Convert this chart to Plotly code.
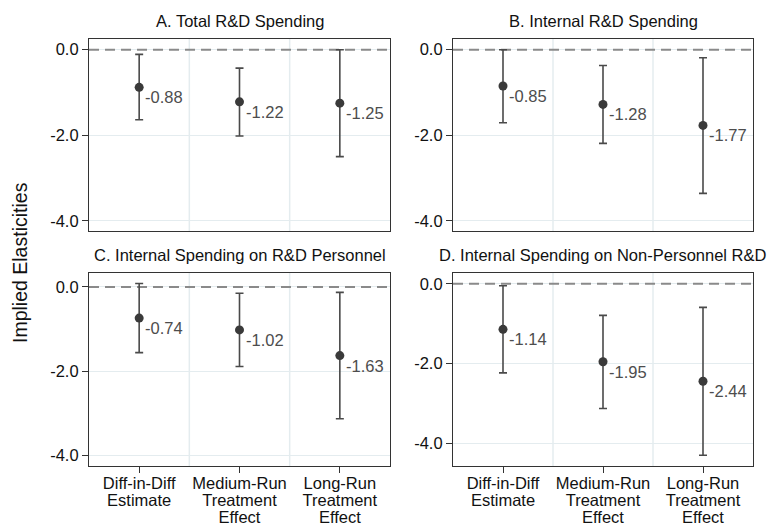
import plotly.graph_objects as go

# Estimates of implied elasticities by panel
categories = ["Diff-in-Diff<br>Estimate", "Medium-Run<br>Treatment<br>Effect", "Long-Run<br>Treatment<br>Effect"]
panel_titles = [
    "A. Total R&D Spending",
    "B. Internal R&D Spending",
    "C. Internal Spending on R&D Personnel",
    "D. Internal Spending on Non-Personnel R&D",
]
est_a = [-0.88, -1.22, -1.25]
lo_a = [-1.64, -2.02, -2.50]
hi_a = [-0.11, -0.43, 0.00]

est_b = [-0.85, -1.28, -1.77]
lo_b = [-1.71, -2.19, -3.36]
hi_b = [0.00, -0.37, -0.19]

est_c = [-0.74, -1.02, -1.63]
lo_c = [-1.56, -1.89, -3.13]
hi_c = [0.08, -0.15, -0.13]

est_d = [-1.14, -1.95, -2.44]
lo_d = [-2.23, -3.12, -4.29]
hi_d = [-0.05, -0.79, -0.59]

y_ticks = [0.0, -2.0, -4.0]
y_tick_labels = ["0.0", "-2.0", "-4.0"]

panels = [
    (est_a, lo_a, hi_a),
    (est_b, lo_b, hi_b),
    (est_c, lo_c, hi_c),
    (est_d, lo_d, hi_d),
]

W, H = 770, 525
# plot-area boxes in pixels: (left, right, top, bottom)
boxes = [(89, 390, 39, 231), (453, 753, 39, 231), (89, 390, 273, 466), (453, 753, 273, 466)]
y_ranges = [[-4.24, 0.25], [-4.24, 0.25], [-4.25, 0.33], [-4.56, 0.27]]

FONT = "Liberation Sans, Arial, sans-serif"
GRID = "#e4ecef"
fig = go.Figure()
xpos = [1, 2, 3]


def tight_lines(label, size=16.5):
    # each line drawn at full size while line spacing follows the smaller base font
    return "<br>".join(f"<span style='font-size:{size}px'>{part}</span>" for part in label.split("<br>"))


for i, ((est, lo, hi), box) in enumerate(zip(panels, boxes)):
    n = "" if i == 0 else str(i + 1)
    xa, ya = "x" + n, "y" + n
    err_plus = [h - e for h, e in zip(hi, est)]
    err_minus = [e - l for e, l in zip(est, lo)]
    # zero reference line
    fig.add_trace(go.Scatter(
        x=[0.5, 3.5], y=[0, 0], mode="lines",
        line=dict(color="#8a8a8a", width=2, dash="10px,6px"),
        xaxis=xa, yaxis=ya, hoverinfo="skip", showlegend=False,
    ))
    fig.add_trace(go.Scatter(
        x=xpos, y=est, mode="markers",
        marker=dict(color="#3a3a3a", size=9),
        error_y=dict(type="data", symmetric=False, array=err_plus, arrayminus=err_minus,
                     color="#4a4a4a", thickness=1.6, width=4),
        xaxis=xa, yaxis=ya, showlegend=False,
    ))
    # value labels next to each estimate
    for xv, v in zip(xpos, est):
        fig.add_annotation(
            x=xv, y=v, xref=xa, yref=ya, text=f"{v:.2f}", showarrow=False,
            xanchor="left", yanchor="middle", xshift=4, yshift=-10,
            font=dict(family=FONT, size=16.5, color="#4d4d4d"),
        )
    l, r, t, b = box
    axis_common = dict(
        showline=True, linecolor="#333333", linewidth=1.2, mirror=True,
        gridcolor=GRID, gridwidth=1.2, zeroline=False,
        ticks="outside", ticklen=6, tickcolor="#333333",
        tickfont=dict(family=FONT, size=16.5, color="#111111"),
    )
    bottom_row = i >= 2
    fig.layout["xaxis" + n] = dict(
        axis_common,
        domain=[l / W, r / W], anchor=ya, range=[0.5, 3.5],
        tickvals=xpos,
        ticktext=[tight_lines(c) for c in categories] if bottom_row else ["", "", ""],
        ticks="outside" if bottom_row else "",
        tickfont=dict(family=FONT, size=13, color="#111111"),
        showgrid=False,
    )
    fig.layout["yaxis" + n] = dict(
        axis_common,
        domain=[1 - b / H, 1 - t / H], anchor=xa, range=y_ranges[i],
        tickvals=y_ticks, ticktext=y_tick_labels,
    )
    # vertical separators between categories
    for xv in (1.5, 2.5):
        fig.add_shape(type="line", xref=xa, yref=ya + " domain", x0=xv, x1=xv, y0=0, y1=1,
                      line=dict(color=GRID, width=1.5), layer="below")
    fig.add_annotation(
        text=panel_titles[i], xref=xa + " domain", yref=ya + " domain",
        x=0.5, y=1, yanchor="bottom", yshift=7, showarrow=False,
        font=dict(family=FONT, size=16.5, color="#111111"),
    )

fig.add_annotation(
    text="Implied Elasticities", xref="paper", yref="paper",
    x=20 / W, y=1 - 263 / H, xanchor="center", yanchor="middle",
    textangle=-90, showarrow=False,
    font=dict(family=FONT, size=19.5, color="#111111"),
)

fig.update_layout(
    width=W, height=H,
    margin=dict(l=0, r=0, t=0, b=0),
    paper_bgcolor="white", plot_bgcolor="white",
    font=dict(family=FONT),
)

fig.write_html("out.html")
